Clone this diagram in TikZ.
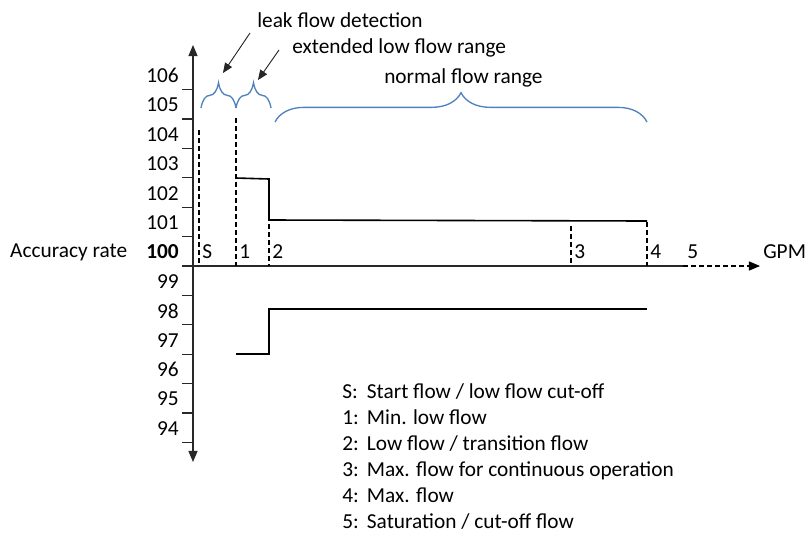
\documentclass[tikz,border=0pt]{standalone}
\usepackage{fontspec}
\setmainfont{Carlito}
\usepackage{tikz}
\usetikzlibrary{arrows}
\usetikzlibrary{positioning}
\usetikzlibrary{decorations.pathreplacing}

\definecolor{bracecol}{RGB}{79,129,189}
\definecolor{axiscol}{RGB}{40,40,40}

\tikzset{
    axisline/.style={axiscol, line width=0.9pt},
    marker/.style={black, dash pattern=on 3.5pt off 2.5pt, line width=0.9pt},
    curve/.style={black, line width=1.2pt},
    rangebrace/.style={bracecol, line width=1pt, decorate, decoration={brace, amplitude=#1}},
    pointer/.style={-triangle 45, black!85, line width=0.7pt},
    ticklab/.style={anchor=east, inner sep=0pt},
    steplab/.style={anchor=west, inner sep=0pt}
}

\begin{document}
\begin{tikzpicture}[x=0.75pt, y=-0.75pt, font=\fontsize{16}{19}\selectfont] % pixel grid, y pointing down
    \useasboundingbox (0,0) rectangle (808,533);

    % Axes
    \coordinate (ytop) at (193,45);
    \coordinate (ybot) at (193,462);
    \coordinate (origin) at (182,266);
    \coordinate (xsolid) at (683,266);
    \coordinate (xtip) at (760,266);
    \draw [axisline, triangle 45-triangle 45] (ytop) -- (ybot);
    \draw [axisline] (origin) -- (xsolid);
    \draw [marker, -triangle 45] (xsolid) -- (xtip);

    % Ticks and accuracy values
    \foreach \k in {6,5,...,-6} {
        \pgfmathsetmacro{\ty}{266-29.4*\k}
        \pgfmathtruncatemacro{\val}{100+\k}
        \draw [axisline] (182,\ty) -- (193,\ty);
        \ifnum\k=0
            \node [ticklab] (lab\k) at (179,\ty-14) {\textbf{\val}};
        \else
            \node [ticklab] (lab\k) at (179,\ty-14) {\val};
        \fi
    }
    \node [ticklab, left=14pt of lab0] (ylabel) {Accuracy rate};
    \node [steplab] (gpm) at (763,252) {GPM};

    % Flow points
    \foreach \name/\x/\top in {S/199/130, 1/236/118, 2/269/224, 3/571/226, 4/647/222} {
        \coordinate (top\name) at (\x,\top);
        \coordinate (bot\name) at (\x,266);
        \draw [marker] (top\name) -- (bot\name);
        \node [steplab] (pt\name) at (\x+3,252) {\name};
    }
    \node [steplab] (pt5) at (687,252) {5};

    % Accuracy limits
    \draw [curve] (236,178) -- (269,179) -- (269,220) -- (647,221);
    \draw [curve] (236,354) -- (269,354) -- (269,309) -- (647,309);

    % Ranges
    \draw [rangebrace=19pt] (201,108) -- (236,108);
    \draw [rangebrace=19pt] (236,108) -- (271,108);
    \draw [rangebrace=22pt] (275,122) -- (647,122);

    \node [steplab] (leak) at (257,20) {leak flow detection};
    \node [steplab] (extended) at (292,48) {extended low flow range};
    \node [steplab] (normal) at (384,78) {normal flow range};

    \coordinate (leakfrom) at (250,33);
    \coordinate (leakto) at (223,73);
    \coordinate (extfrom) at (279,50);
    \coordinate (extto) at (258,80);
    \draw [pointer] (leakfrom) -- (leakto);
    \draw [pointer] (extfrom) -- (extto);

    % Legend
    \foreach \n/\txt [count=\i] in {S/{Start flow / low flow cut-off},
                                    1/{Min. low flow},
                                    2/{Low flow / transition flow},
                                    3/{Max. flow for continuous operation},
                                    4/{Max. flow},
                                    5/{Saturation / cut-off flow}} {
        \node [steplab, anchor=base west] (legend\i) at (342,372+26*\i) {\makebox[18.5pt][l]{\n:}\txt};
    }

\end{tikzpicture}
\end{document}
